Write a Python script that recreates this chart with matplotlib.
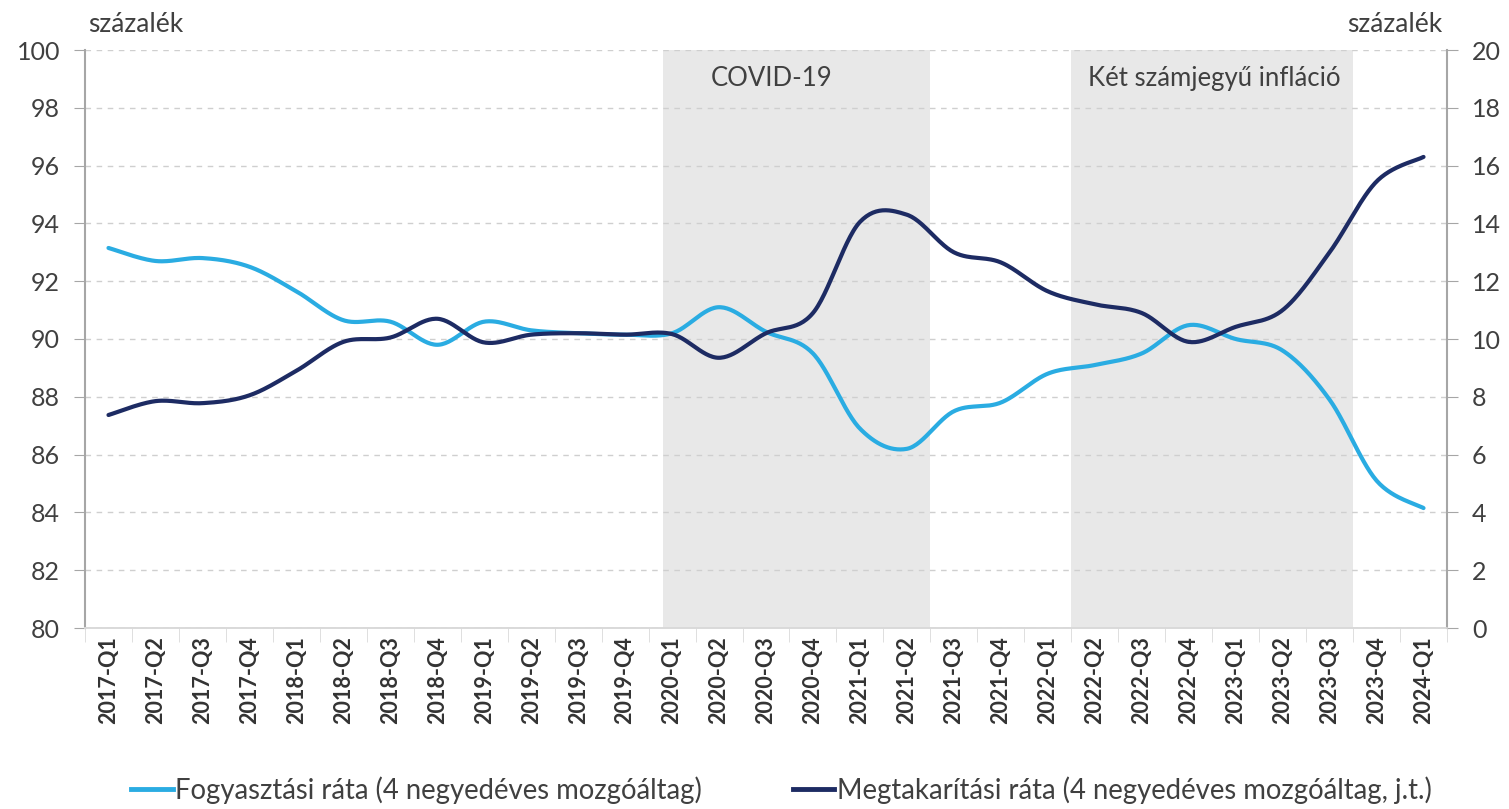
import numpy as np
import matplotlib
matplotlib.use("Agg")
import matplotlib.pyplot as plt
from matplotlib.lines import Line2D

plt.rcParams["font.family"] = ["Lato", "DejaVu Sans"]

# =========================
# DATA
# =========================

quarters = [
    "2017-Q1", "2017-Q2", "2017-Q3", "2017-Q4",
    "2018-Q1", "2018-Q2", "2018-Q3", "2018-Q4",
    "2019-Q1", "2019-Q2", "2019-Q3", "2019-Q4",
    "2020-Q1", "2020-Q2", "2020-Q3", "2020-Q4",
    "2021-Q1", "2021-Q2", "2021-Q3", "2021-Q4",
    "2022-Q1", "2022-Q2", "2022-Q3", "2022-Q4",
    "2023-Q1", "2023-Q2", "2023-Q3", "2023-Q4",
    "2024-Q1",
]

# consumption rate, left axis (%)
fogyasztasi = [
    93.15, 92.7, 92.8, 92.5,
    91.65, 90.65, 90.6, 89.8,
    90.6, 90.3, 90.2, 90.15,
    90.2, 91.1, 90.25, 89.5,
    86.9, 86.2, 87.5, 87.8,
    88.8, 89.1, 89.5, 90.48,
    90.0, 89.6, 87.9, 85.1,
    84.15,
]

# saving rate, right axis (%)
megtakaritasi = [
    7.37, 7.85, 7.78, 8.05,
    8.9, 9.9, 10.05, 10.7,
    9.88, 10.15, 10.2, 10.15,
    10.17, 9.35, 10.2, 10.9,
    14.05, 14.3, 13.0, 12.65,
    11.65, 11.2, 10.9, 9.9,
    10.42, 11.0, 13.0, 15.45,
    16.3,
]

shade_start = ["2020-Q1", "2022-Q2"]
shade_end = ["2021-Q2", "2023-Q3"]
shade_start_shift = [0.3, 0.0]
shade_labels = ["COVID-19", "Két számjegyű infláció"]

legend_labels = [
    "Fogyasztási ráta (4 negyedéves mozgóáltag)",
    "Megtakarítási ráta (4 negyedéves mozgóáltag, j.t.)",
]

LIGHT = "#2aace2"
DARK = "#1d2b63"
TEXT = "#404040"


def smooth(y, n=30):
    # excel-like smoothed line (catmull-rom via bezier)
    y = np.asarray(y, dtype=float)
    x = np.arange(len(y), dtype=float)
    pts = np.column_stack([x, y])
    out = []
    for i in range(len(pts) - 1):
        p0 = pts[i - 1] if i > 0 else pts[i]
        p1 = pts[i]
        p2 = pts[i + 1]
        p3 = pts[i + 2] if i + 2 < len(pts) else pts[i + 1]
        c1 = p1 + (p2 - p0) / 6
        c2 = p2 - (p3 - p1) / 6
        t = np.linspace(0, 1, n)[:, None]
        seg = ((1 - t) ** 3) * p1 + 3 * ((1 - t) ** 2) * t * c1 \
            + 3 * (1 - t) * t ** 2 * c2 + t ** 3 * p2
        out.append(seg if i == 0 else seg[1:])
    out = np.vstack(out)
    return out[:, 0], out[:, 1]


# =========================
# FIGURE
# =========================

fig = plt.figure(figsize=(15.09, 8.09), dpi=100)
ax = fig.add_axes([85 / 1509, 1 - 628 / 809, (1447 - 85) / 1509, (628 - 50) / 809])
ax2 = ax.twinx()

n = len(quarters)
ax.set_xlim(-0.5, n - 0.5)
ax.set_ylim(80, 100)
ax2.set_ylim(0, 20)

for s, e, sh in zip(shade_start, shade_end, shade_start_shift):
    x0 = quarters.index(s) - 0.5 + sh
    x1 = quarters.index(e) + 0.5
    ax.axvspan(x0, x1, color="#e8e8e8", lw=0, zorder=0)

ax.text(14.13, 99.0, shade_labels[0], ha="center", va="center",
        fontsize=18.5, color=TEXT)
ax.text(23.55, 99.0, shade_labels[1], ha="center", va="center",
        fontsize=18.5, color=TEXT)

ax.yaxis.grid(True, color="#cfcfcf", lw=1.0, linestyle=(0, (4, 4)))
ax.set_yticks(np.arange(80, 101, 2))
ax2.set_yticks(np.arange(0, 21, 2))

xs, ys = smooth(fogyasztasi)
ax.plot(xs, ys, color=LIGHT, lw=3.0, solid_capstyle="round", zorder=3)
xs, ys = smooth(megtakaritasi)
ax2.plot(xs, ys, color=DARK, lw=3.0, solid_capstyle="round", zorder=3)

ax.set_xticks(range(n))
ax.set_xticklabels(quarters, rotation=90, fontsize=15.5, fontweight="bold",
                   color="#333333")
ax.set_xticks(np.arange(-0.5, n, 1), minor=True)
ax.tick_params(axis="x", which="major", length=0, pad=6)
ax.tick_params(axis="x", which="minor", length=10, color="#d9d9d9")

ax.tick_params(axis="y", labelsize=18, colors=TEXT, length=8,
               color="#a6a6a6", pad=10)
ax2.tick_params(axis="y", labelsize=18, colors=TEXT, length=8,
                color="#a6a6a6", pad=10)

for a in (ax, ax2):
    a.spines["top"].set_visible(False)
    a.spines["left"].set_color("#a6a6a6")
    a.spines["right"].set_color("#a6a6a6")
    a.spines["bottom"].set_color("#d9d9d9")
    a.spines["left"].set_linewidth(1.5)
    a.spines["right"].set_linewidth(1.5)
    a.spines["bottom"].set_linewidth(1.2)
ax2.spines["left"].set_visible(False)
ax.spines["right"].set_visible(False)

fig.text(88 / 1509, 1 - 24 / 809, "százalék", ha="left", va="center",
         fontsize=19, color=TEXT)
fig.text(1442 / 1509, 1 - 24 / 809, "százalék", ha="right", va="center",
         fontsize=19, color=TEXT)

handles = [
    Line2D([], [], color=LIGHT, lw=3.5),
    Line2D([], [], color=DARK, lw=3.5),
]
fig.legend(handles, legend_labels, loc="center", ncol=2,
           bbox_to_anchor=(0.518, 1 - 790 / 809), frameon=False,
           fontsize=19.8, handlelength=1.5, handletextpad=0.1,
           columnspacing=3.3, labelcolor=TEXT)

plt.savefig("out.png", dpi=100)
plt.close()
